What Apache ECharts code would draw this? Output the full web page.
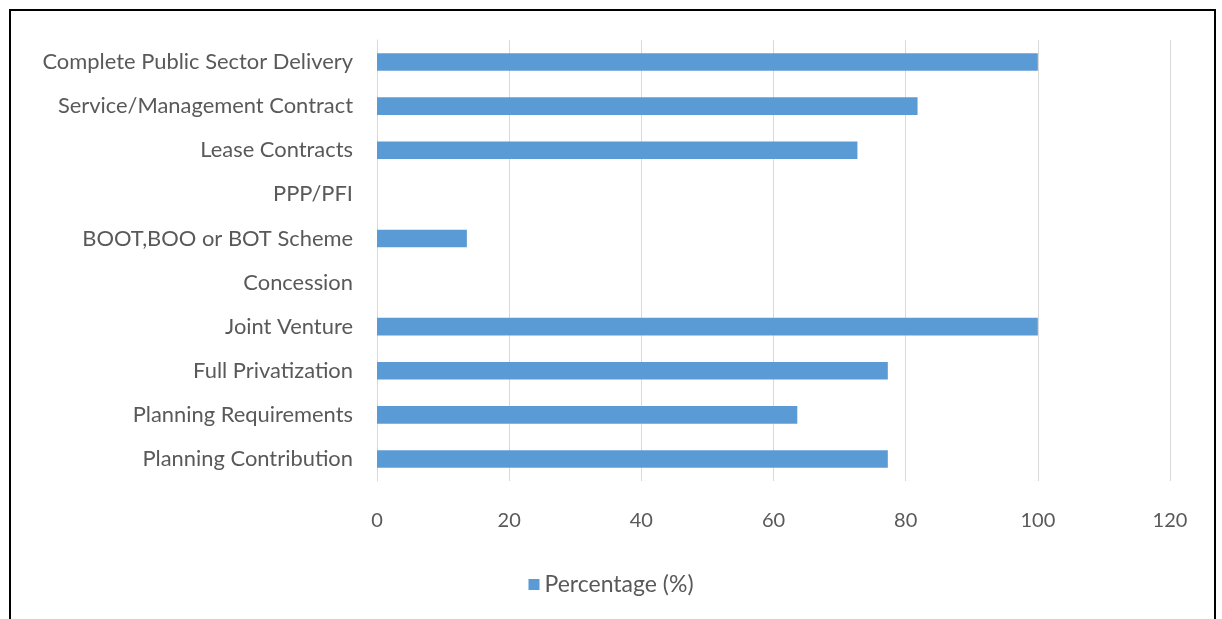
<!DOCTYPE html>
<html><head><meta charset="utf-8">
<script src="https://cdn.jsdelivr.net/npm/echarts@6/dist/echarts.min.js"></script>
<style>
html,body{margin:0;padding:0;background:#fff;}
#frame{position:absolute;left:9px;top:9px;width:1207px;height:620px;border:2px solid #000;box-sizing:border-box;}
#c{position:absolute;left:0;top:0;width:1222px;height:619px;}
</style></head>
<body>
<div id="frame"></div>
<div id="c"></div>
<script>
const categories = ["Complete Public Sector Delivery","Service/Management Contract","Lease Contracts","PPP/PFI","BOOT,BOO or BOT Scheme","Concession","Joint Venture","Full Privatization","Planning Requirements","Planning Contribution"];
const percentage = [100, 81.8, 72.7, 0, 13.6, 0, 100, 77.3, 63.6, 77.3];
const seriesName = "Percentage (%)";
const xTicks = {min: 0, max: 120, interval: 20};

const chart = echarts.init(document.getElementById('c'), null, {renderer: 'canvas'});
const font = 'Lato, "Open Sans", sans-serif';
chart.setOption({
  animation: false,
  grid: {left: 377, right: 52, top: 40, bottom: 138, containLabel: false},
  legend: {
    data: [seriesName], bottom: 18, left: 'center',
    icon: 'rect', itemWidth: 11, itemHeight: 11, itemGap: 9,
    itemStyle: {borderWidth: 0},
    textStyle: {color: '#595959', fontSize: 23, fontFamily: font}
  },
  xAxis: {
    type: 'value', min: xTicks.min, max: xTicks.max, interval: xTicks.interval,
    axisLine: {show: false}, axisTick: {show: false},
    axisLabel: {color: '#595959', fontSize: 20, fontFamily: font, margin: 30},
    splitLine: {show: true, lineStyle: {color: '#d9d9d9', width: 1}}
  },
  yAxis: {
    type: 'category', data: categories, inverse: true,
    axisLine: {show: true, lineStyle: {color: '#d9d9d9'}},
    axisTick: {show: false},
    axisLabel: {color: '#595959', fontSize: 21.9, fontFamily: font, margin: 24}
  },
  series: [{
    name: seriesName, type: 'bar', data: percentage,
    barCategoryGap: '60%',
    itemStyle: {color: '#5B9BD5', borderWidth: 0}
  }]
});
</script>
</body></html>
